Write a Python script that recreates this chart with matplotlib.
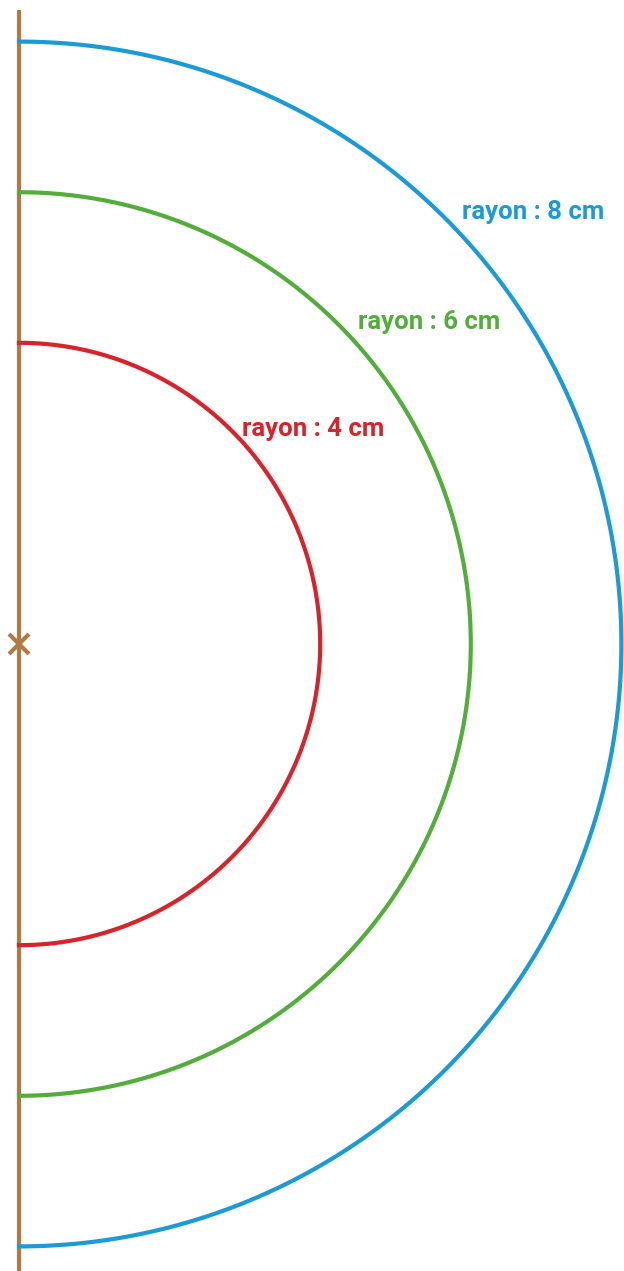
import numpy as np
import matplotlib.pyplot as plt

# Half circles centred on the mark, radii in cm
radii = [4, 6, 8]
labels = ["rayon : 4 cm", "rayon : 6 cm", "rayon : 8 cm"]
colors = ["#d8232a", "#52ad3b", "#1b9ad8"]
label_pos = [(2.96, 2.86), (4.50, 4.28), (5.88, 5.74)]

scale = 75.3  # pixels per cm
W, H = 624, 1271
cx, cy = 19, 644

fig = plt.figure(figsize=(W / 100, H / 100), dpi=100)
ax = fig.add_axes([0, 0, 1, 1])
ax.set_xlim(-cx / scale, (W - cx) / scale)
ax.set_ylim(-(H - cy) / scale, cy / scale)
ax.axis("off")

brown = "#b07a45"
ax.plot([0, 0], [-(H - cy) / scale, (cy - 10) / scale], color=brown, lw=3, solid_capstyle="butt")
ax.plot(0, 0, marker="x", ms=14, mew=3, color=brown)

t = np.linspace(-np.pi / 2, np.pi / 2, 400)
for r, lab, c, (lx, ly) in zip(radii, labels, colors, label_pos):
    ax.plot(r * np.cos(t), r * np.sin(t), color=c, lw=3)
    ax.text(lx, ly, lab, color=c, fontsize=18.5, fontweight="bold",
            family="Roboto", ha="left", va="center")

fig.savefig("out.png", dpi=100)
